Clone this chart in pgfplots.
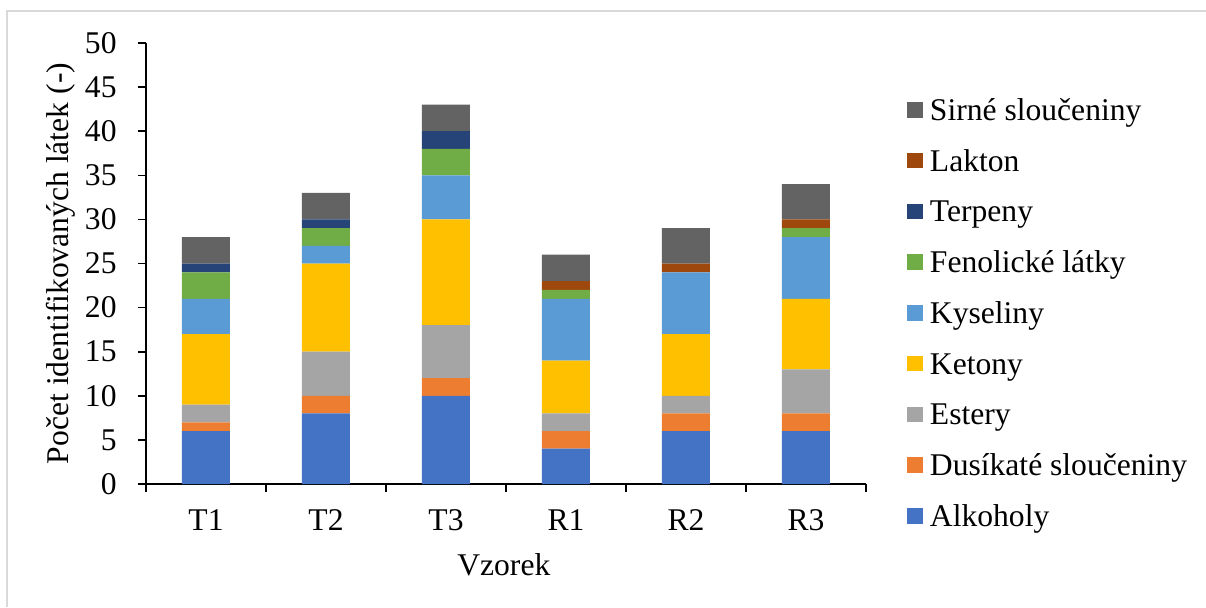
\documentclass[border=0pt]{standalone}
\usepackage{fontspec}
\setmainfont{Liberation Serif}
\usepackage{pgfplots}
\usepackage{pgfplotstable}
\pgfplotsset{compat=1.18}

\definecolor{cAlk}{HTML}{4472C4}
\definecolor{cDus}{HTML}{ED7D31}
\definecolor{cEst}{HTML}{A5A5A5}
\definecolor{cKet}{HTML}{FFC000}
\definecolor{cKys}{HTML}{5B9BD5}
\definecolor{cFen}{HTML}{70AD47}
\definecolor{cTer}{HTML}{264478}
\definecolor{cLak}{HTML}{9E480E}
\definecolor{cSir}{HTML}{636363}
\definecolor{frame}{HTML}{D9D9D9}

% number of identified compounds per sample and class
\pgfplotstableread{
x Alk Dus Est Ket Kys Fen Ter Lak Sir
0 6  1 2 8  4 3 1 0 3
1 8  2 5 10 2 2 1 0 3
2 10 2 6 12 5 3 2 0 3
3 4  2 2 6  7 1 0 1 3
4 6  2 2 7  7 0 0 1 4
5 6  2 5 8  7 1 0 1 4
}\datatable

\newcommand{\chfont}{\fontsize{15.8}{19}\selectfont}

\begin{document}
\begin{tikzpicture}
\useasboundingbox (0,0) rectangle (603pt,303.5pt);
\draw[frame, line width=0.6pt] (3.5pt,0) -- (3.5pt,298pt) -- (603pt,298pt);
\begin{axis}[
  at={(73pt,61.5pt)}, anchor=south west,
  scale only axis, width=360pt, height=220.5pt,
  ybar stacked, bar width=24pt,
  xmin=-0.5, xmax=5.5, ymin=0, ymax=50,
  axis lines*=left,
  axis line style={black, line width=0.8pt},
  tick style={black, line width=0.8pt},
  tick align=outside, major tick length=3.8pt,
  ytick={0,5,...,50},
  xtick={-0.5,0.5,...,5.5}, xticklabels={},
  extra x ticks={0,1,2,3,4,5},
  extra x tick labels={T1,T2,T3,R1,R2,R3},
  extra x tick style={tick style={draw=none}},
  /pgf/number format/assume math mode=true,
  tick label style={font=\chfont},
  yticklabel style={anchor=east, inner sep=0pt, xshift=-10.7pt},
  xticklabel style={anchor=base, inner sep=0pt, yshift=-19.5pt},
  ylabel={Počet identifikovaných látek (-)},
  xlabel={Vzorek},
  every axis y label/.style={at={(axis description cs:-0.107,0.5)}, rotate=90, anchor=base, font=\chfont},
  every axis x label/.style={at={(axis description cs:0.497,0)}, anchor=base, yshift=-45.5pt, font=\chfont},
  reverse legend,
  legend cell align=left,
  legend image code/.code={\fill[#1] (0pt,-3.9pt) rectangle (7.8pt,3.9pt);},
  legend style={draw=none, fill=none, inner sep=0pt, at={(1.0569,0.388)}, anchor=west,
    font=\chfont, row sep=14.9pt, column sep=3.5pt,
    nodes={inner sep=0pt, text height=10.5pt, text depth=0pt}},
]
\addplot[fill=cAlk, draw=none] table[x=x, y=Alk] {\datatable};
\addplot[fill=cDus, draw=none] table[x=x, y=Dus] {\datatable};
\addplot[fill=cEst, draw=none] table[x=x, y=Est] {\datatable};
\addplot[fill=cKet, draw=none] table[x=x, y=Ket] {\datatable};
\addplot[fill=cKys, draw=none] table[x=x, y=Kys] {\datatable};
\addplot[fill=cFen, draw=none] table[x=x, y=Fen] {\datatable};
\addplot[fill=cTer, draw=none] table[x=x, y=Ter] {\datatable};
\addplot[fill=cLak, draw=none] table[x=x, y=Lak] {\datatable};
\addplot[fill=cSir, draw=none] table[x=x, y=Sir] {\datatable};
\legend{Alkoholy, Dusíkaté sloučeniny, Estery, Ketony, Kyseliny, Fenolické látky, Terpeny, Lakton, Sirné sloučeniny}
\end{axis}
\end{tikzpicture}
\end{document}
